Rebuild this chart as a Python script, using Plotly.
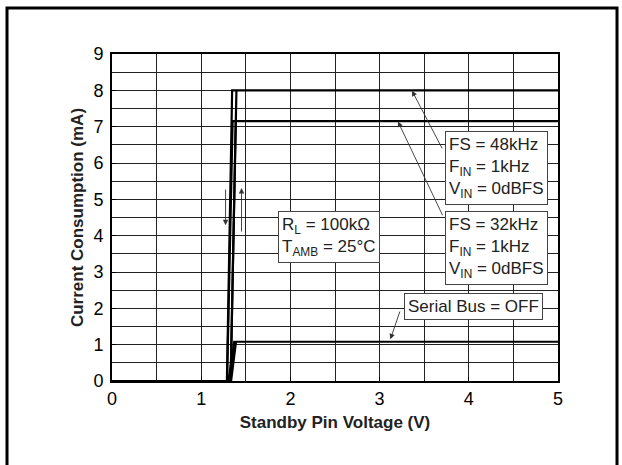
import plotly.graph_objects as go

# Hysteresis traces: rising edge then falling edge (Standby pin voltage V, current mA)
v_48k = [0, 1.33, 1.395, 5, 1.347, 1.288, 0]
i_48k = [0, 0, 8.0, 8.0, 8.0, 0, 0]
v_32k = [0, 1.33, 1.387, 5, 1.352, 1.29, 0]
i_32k = [0, 0, 7.15, 7.15, 7.15, 0, 0]
v_off = [0, 1.335, 1.39, 5, 1.37, 1.305, 0]
i_off = [0, 0, 1.08, 1.08, 1.08, 0, 0]

x_ticks = [0, 1, 2, 3, 4, 5]
y_ticks = [0, 1, 2, 3, 4, 5, 6, 7, 8, 9]

FONT = "Liberation Sans, Arial, sans-serif"

fig = go.Figure()
for vx, iy in [(v_48k, i_48k), (v_32k, i_32k), (v_off, i_off)]:
    fig.add_trace(go.Scatter(x=vx, y=iy, mode="lines",
                             line=dict(color="black", width=2.2),
                             showlegend=False, hoverinfo="skip"))

axis_common = dict(
    showline=True, linecolor="black", linewidth=1.6, mirror=True,
    showgrid=True, gridcolor="#222", gridwidth=1,
    zeroline=False, ticks="inside", ticklen=4, tickcolor="black",
    tickfont=dict(family=FONT, size=18, color="black"),
)

fig.update_xaxes(range=[0, 5], tickvals=x_ticks, ticklabelstandoff=1,
                 minor=dict(dtick=0.5, showgrid=True, gridcolor="#222", gridwidth=1),
                 title=dict(text="<b>Standby Pin Voltage (V)</b>",
                            font=dict(family=FONT, size=17, color="#222"), standoff=8),
                 **axis_common)
fig.update_yaxes(range=[0, 9], tickvals=y_ticks, ticklabelstandoff=3,
                 minor=dict(dtick=0.5, showgrid=True, gridcolor="#222", gridwidth=1),
                 title=dict(text="<b>Current Consumption (mA)</b>",
                            font=dict(family=FONT, size=17, color="#222"), standoff=6),
                 **axis_common)

box_style = dict(xref="x", yref="y", showarrow=False, align="left",
                 bgcolor="white", bordercolor="#444", borderwidth=1, borderpad=3,
                 font=dict(family=FONT, size=17, color="#222"),
                 xanchor="center", yanchor="middle")

fig.add_annotation(x=4.31, y=5.85,
                   text="FS = 48kHz<br>F<sub>IN</sub> = 1kHz<br>V<sub>IN</sub> = 0dBFS",
                   **box_style)
fig.add_annotation(x=4.305, y=3.66,
                   text="FS = 32kHz<br>F<sub>IN</sub> = 1kHz<br>V<sub>IN</sub> = 0dBFS",
                   **box_style)
fig.add_annotation(x=4.05, y=2.06, text="Serial Bus = OFF", **box_style)
fig.add_annotation(x=2.43, y=3.97,
                   text="R<sub>L</sub> = 100kΩ<br>T<sub>AMB</sub> = 25°C",
                   **box_style)

arrow_style = dict(xref="x", yref="y", axref="x", ayref="y", text="",
                   showarrow=True, arrowhead=2, arrowsize=1.2, arrowwidth=0.9,
                   arrowcolor="#333")
arrows = [
    (3.363, 7.99, 3.71, 6.36),
    (3.206, 7.14, 3.714, 4.52),
    (3.121, 1.15, 3.233, 1.954),
    (1.273, 4.29, 1.273, 5.31),
    (1.452, 5.31, 1.452, 4.07),
]
for x, y, ax, ay in arrows:
    fig.add_annotation(x=x, y=y, ax=ax, ay=ay, **arrow_style)

# outer frame (open at the bottom)
fig.add_shape(type="path", xref="paper", yref="paper",
              path="M -0.2354 -0.3 L -0.2354 1.1407 L 1.1323 1.1407 L 1.1323 -0.3",
              line=dict(color="black", width=3), layer="above")

fig.update_layout(
    width=622, height=465,
    margin=dict(l=112, r=64, t=54, b=84),
    paper_bgcolor="white", plot_bgcolor="white",
    font=dict(family=FONT, color="black"),
    showlegend=False,
)

fig.write_html("out.html", config={"displayModeBar": False},
               post_script="document.body.style.margin='0px';document.body.style.overflow='hidden';")
